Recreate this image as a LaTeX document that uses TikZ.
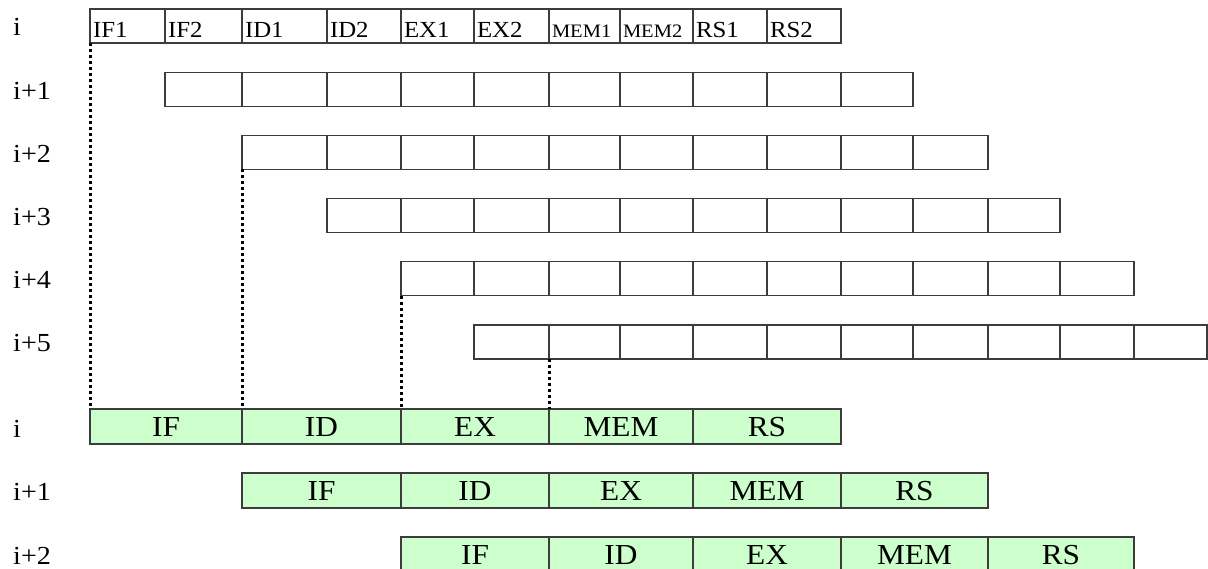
\documentclass[tikz,border=0pt]{standalone}
\usepackage{fontspec}
\setmainfont{Liberation Serif}[FakeStretch=1.08]
\definecolor{stagegreen}{HTML}{CCFFCC}
\definecolor{cellline}{HTML}{3C3C3C}
\newcommand{\smallstage}[1]{{\fontsize{19}{20}\selectfont #1}}
% left edges of the pipeline columns, in pixels
\def\colx{{90,165,242,327,401,474,549,620,693,767,841,913,988,1060,1134,1207}}

\begin{document}
\begin{tikzpicture}[x=1pt, y=-1pt,
        cell/.style={rectangle, draw=cellline, line width=1.3pt, outer sep=0pt,
                anchor=north west, minimum height=34pt, inner xsep=3pt, inner ysep=0pt,
                text height=23pt, text depth=0pt, align=left,
                font=\fontsize{23}{25}\selectfont},
        stage/.style={rectangle, draw=cellline, line width=1.3pt, outer sep=0pt,
                fill=stagegreen, anchor=north west, minimum height=35pt, inner sep=0pt,
                text height=20pt, text depth=0pt, font=\fontsize{29}{31}\selectfont},
        rowlbl/.style={anchor=base west, inner sep=0pt, font=\fontsize{26}{28}\selectfont},
        guide/.style={draw=black, line width=3pt, dash pattern=on 3pt off 3pt}
    ]
        \useasboundingbox (0,0) rectangle (1208,569);

        % Superpipelined issue: ten half stages per instruction
        \foreach \txt [count=\c from 0] in {IF1, IF2, ID1, ID2, EX1, EX2,
                \smallstage{MEM1}, \smallstage{MEM2}, RS1, RS2} {
                \pgfmathsetmacro{\xl}{\colx[\c]}
                \pgfmathsetmacro{\tw}{\colx[\c+1]-\colx[\c]-6}
                \node[cell, text width=\tw pt] (t0-\c) at (\xl,9) {\txt};
            }

        % Following instructions, each shifted by one half stage
        \foreach \r in {1,...,5} {
                \foreach \c in {0,...,9} {
                        \pgfmathtruncatemacro{\k}{\r+\c}
                        \pgfmathsetmacro{\xl}{\colx[\k]}
                        \pgfmathsetmacro{\tw}{\colx[\k+1]-\colx[\k]-6}
                        \node[cell, text width=\tw pt] (t\r-\c) at (\xl,9+63.2*\r) {};
                    }
            }

        \foreach \lbl [count=\r from 0] in {i, i+1, i+2, i+3, i+4, i+5} {
                \node[rowlbl] (l\r) at (13,36+63.2*\r) {\lbl};
            }

        % Ordinary pipeline: five full stages
        \foreach \g in {0,1,2} {
                \foreach \txt [count=\s from 0] in {IF, ID, EX, MEM, RS} {
                        \pgfmathtruncatemacro{\k}{2*\g+2*\s}
                        \pgfmathsetmacro{\xl}{\colx[\k]}
                        \pgfmathsetmacro{\w}{\colx[\k+2]-\colx[\k]}
                        \node[stage, minimum width=\w pt] (g\g-\s) at (\xl,409+64*\g) {\txt};
                    }
            }

        \foreach \lbl [count=\g from 0] in {i, i+1, i+2} {
                \node[rowlbl] (gl\g) at (13,437+63.5*\g) {\lbl};
            }

        % Stage boundaries carried down to the ordinary pipeline
        \foreach \r/\c/\s in {0/0/0, 2/0/1, 4/0/2, 5/1/3} {
                \draw[guide] (t\r-\c.south west) -- (g0-\s.north west);
            }
    \end{tikzpicture}
\end{document}
